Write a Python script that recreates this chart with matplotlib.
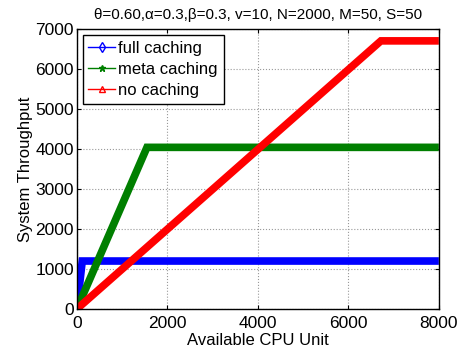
import matplotlib
matplotlib.use('Agg')
import matplotlib.pyplot as plt
from matplotlib.lines import Line2D

plt.rcParams['font.family'] = ['Liberation Sans', 'DejaVu Sans']

# breakpoints (x = available CPU unit, y = throughput)
full_x = [0, 120, 8000]
full_y = [0, 1200, 1200]
meta_x = [0, 1550, 8000]
meta_y = [0, 4040, 4040]
none_x = [0, 6720, 8000]
none_y = [0, 6700, 6700]

labels = ['full caching', 'meta caching', 'no caching']
colors = ['#0000ff', '#007f00', '#ff0000']
markers = ['d', '*', '^']

fig = plt.figure(figsize=(4.6, 3.52), dpi=100)
ax = fig.add_axes([0.167, 0.122, 0.787, 0.796])

series = [(full_x, full_y), (meta_x, meta_y), (none_x, none_y)]
for (xs, ys), c in zip(series, colors):
    ax.plot(xs, ys, color=c, lw=5.5, solid_capstyle='butt', solid_joinstyle='miter')

ax.set_xlim(0, 8000)
ax.set_ylim(0, 7000)
ax.set_xticks([0, 2000, 4000, 6000, 8000])
ax.set_yticks(range(0, 7001, 1000))
ax.tick_params(direction='in', labelsize=12.5, length=3, top=True, right=True)
ax.tick_params(axis='x', pad=5)
ax.tick_params(axis='y', pad=2)
ax.grid(True, linestyle=':', color='#999999', lw=0.8)
for s in ax.spines.values():
    s.set_linewidth(1.0)

ax.set_xlabel('Available CPU Unit', fontsize=12, labelpad=1.5)
ax.set_ylabel('System Throughput', fontsize=12, labelpad=2)
ax.set_title('\u03b8=0.60,\u03b1=0.3,\u03b2=0.3, v=10, N=2000, M=50, S=50', fontsize=11, pad=7)

handles = [Line2D([], [], color=c, marker=m, markersize=5, mfc='none' if m != '*' else c, lw=1)
           for c, m in zip(colors, markers)]
leg = ax.legend(handles, labels, loc='upper left', fontsize=12, fancybox=False,
                framealpha=1, edgecolor='black', handlelength=1.6, handletextpad=0.2,
                borderpad=0.35, labelspacing=0.38, borderaxespad=0.35)
leg.get_frame().set_linewidth(1.0)

fig.savefig('out.png', dpi=100)
